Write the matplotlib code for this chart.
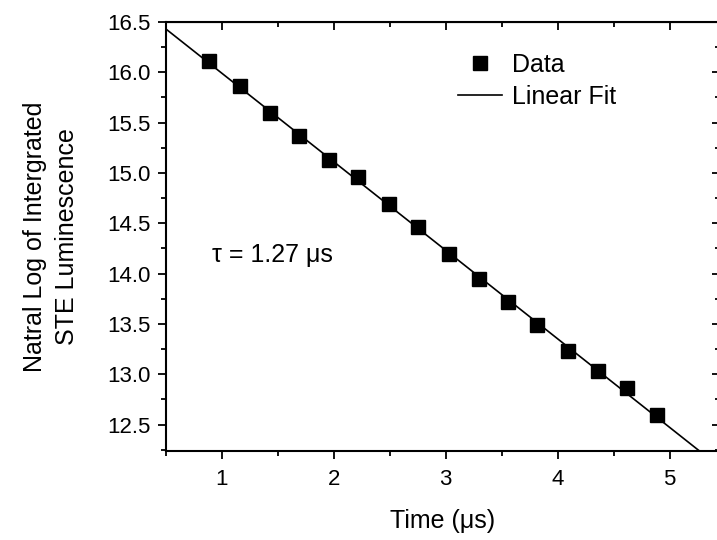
import numpy as np
import matplotlib
matplotlib.use("Agg")
import matplotlib.pyplot as plt
from matplotlib.ticker import MultipleLocator

plt.rcParams['font.family'] = ['Liberation Sans', 'DejaVu Sans']

# data
time_us = [0.89, 1.16, 1.43, 1.69, 1.96, 2.22, 2.49, 2.75,
           3.03, 3.30, 3.56, 3.82, 4.09, 4.36, 4.62, 4.89]
ln_lum = [16.11, 15.86, 15.60, 15.37, 15.13, 14.96, 14.69, 14.46,
          14.19, 13.95, 13.72, 13.49, 13.23, 13.03, 12.86, 12.59]

# linear fit of the data
slope, intercept = np.polyfit(time_us, ln_lum, 1)
fit_x = np.array([0.3, 5.6])
fit_y = slope * fit_x + intercept

fig = plt.figure(figsize=(7.17, 5.40), dpi=100)
ax = fig.add_axes([0.2311, 0.1654, 0.7731, 0.7939])

ax.plot(fit_x, fit_y, color='black', lw=1.2, label='Linear Fit')
ax.plot(time_us, ln_lum, 's', color='black', ms=10.5, label='Data')

ax.set_xlim(0.5, 5.45)
ax.set_ylim(12.24, 16.5)

ax.xaxis.set_major_locator(MultipleLocator(1))
ax.xaxis.set_minor_locator(MultipleLocator(0.5))
ax.yaxis.set_major_locator(MultipleLocator(0.5))
ax.yaxis.set_minor_locator(MultipleLocator(0.25))
ax.yaxis.set_major_formatter(matplotlib.ticker.FormatStrFormatter('%.1f'))

for s in ax.spines.values():
    s.set_linewidth(1.5)

ax.tick_params(axis='both', which='major', direction='out', length=6, width=1.3,
               labelsize=16, pad=5)
ax.tick_params(axis='both', which='minor', direction='out', length=3.5, width=1.3)
ax.tick_params(axis='x', pad=7)

# top and right axes with inward ticks
axt = ax.secondary_xaxis('top')
axt.xaxis.set_major_locator(MultipleLocator(1))
axt.xaxis.set_minor_locator(MultipleLocator(0.5))
axt.tick_params(which='major', direction='in', length=6, width=1.3, labeltop=False)
axt.tick_params(which='minor', direction='in', length=3.5, width=1.3)
axr = ax.secondary_yaxis('right')
axr.yaxis.set_major_locator(MultipleLocator(0.5))
axr.yaxis.set_minor_locator(MultipleLocator(0.25))
axr.tick_params(which='major', direction='in', length=6, width=1.3, labelright=False)
axr.tick_params(which='minor', direction='in', length=3.5, width=1.3)

ax.set_xlabel('Time (μs)', fontsize=18, labelpad=14)
ax.set_ylabel('Natral Log of Intergrated\nSTE Luminescence', fontsize=18,
              labelpad=20, linespacing=1.45)

ax.text(0.91, 14.18, 'τ = 1.27 μs', fontsize=18, ha='left', va='center')

handles, labels = ax.get_legend_handles_labels()
leg = ax.legend(handles[::-1], labels[::-1], loc='upper left',
                bbox_to_anchor=(458 / 717, 1 - 53 / 540),
                bbox_transform=fig.transFigure, frameon=False, fontsize=18,
                handlelength=1.75, handletextpad=0.4, labelspacing=0.3,
                borderpad=0, borderaxespad=0, numpoints=1)

fig.savefig('out.png', dpi=100)
